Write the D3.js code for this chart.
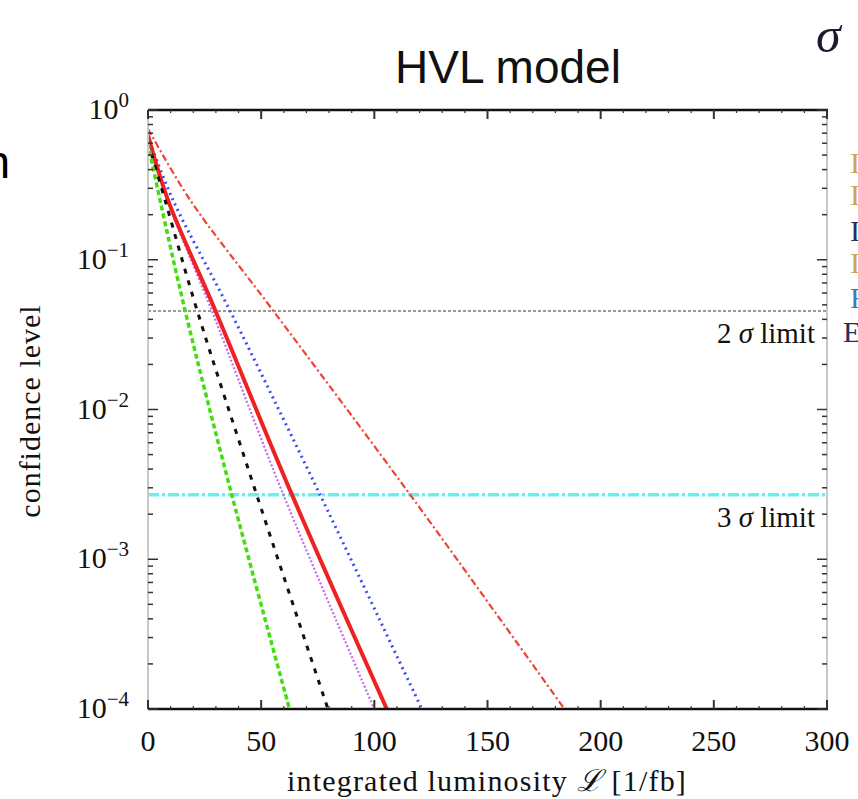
<!DOCTYPE html>
<html>
<head>
<meta charset="utf-8">
<script src="https://cdn.jsdelivr.net/npm/d3@7"></script>
<style>
  body { margin: 0; background: #fff; }
  svg { display: block; }
</style>
</head>
<body>
<svg width="858" height="799"></svg>
<script>
// confidence level vs integrated luminosity, HVL model

// series: luminosity [1/fb] and confidence level
var lumiGreen = [0, 5.3, 16.3, 37, 62.5];
var clGreen   = [0.60, 0.251, 0.0464, 0.0027, 1e-4];
var lumiBlack = [0, 7.5, 21.6, 48, 79.5];
var clBlack   = [0.61, 0.251, 0.0464, 0.0027, 1e-4];
var lumiMagenta = [0, 8.5, 28, 59.8, 100];
var clMagenta   = [0.64, 0.251, 0.0464, 0.0027, 1e-4];
var lumiRed = [0, 8.8, 29.6, 63.6, 105.5];
var clRed   = [0.68, 0.251, 0.0464, 0.0027, 1e-4];
var lumiBlue = [0, 11, 36, 76, 121];
var clBlue   = [0.66, 0.251, 0.0464, 0.0027, 1e-4];
var lumiOrange = [0, 18.6, 55, 115.8, 184];
var clOrange   = [0.75, 0.251, 0.0464, 0.0027, 1e-4];

var limits = [0.0455, 0.0027];
var limitLabels = ["2", "3"];

var xTicks = [0, 50, 100, 150, 200, 250, 300];
var yTicks = [1, 0.1, 0.01, 0.001, 0.0001];
var yTickExp = ["0", "\u22121", "\u22122", "\u22123", "\u22124"];

var svg = d3.select("svg");

var pLeft = 148, pRight = 827, pTop = 110, pBottom = 709;

var x = d3.scaleLinear().domain([0, 300]).range([pLeft, pRight]);
var y = d3.scaleLog().domain([1e-4, 1]).range([pBottom, pTop]);

var serif = "'Liberation Serif', 'DejaVu Serif', serif";

// title
svg.append("text")
    .attr("x", 508)
    .attr("y", 83)
    .attr("text-anchor", "middle")
    .attr("font-family", "'Liberation Sans', Arial, sans-serif")
    .attr("font-size", "46px")
    .attr("fill", "#111")
    .text("HVL model");

// bits of the neighbouring slide content
svg.append("text")
    .attr("x", 10)
    .attr("y", 178)
    .attr("text-anchor", "end")
    .attr("font-family", "'Liberation Sans', Arial, sans-serif")
    .attr("font-size", "46px")
    .attr("fill", "#000")
    .text("n");

svg.append("text")
    .attr("x", 816)
    .attr("y", 52)
    .attr("font-family", serif)
    .attr("font-style", "italic")
    .attr("font-size", "50px")
    .attr("fill", "#1a1a30")
    .text("\u03c3");

var edge = [
  {t: "I", y: 173, c: "#c9a55a"},
  {t: "I", y: 205, c: "#c9a55a"},
  {t: "I", y: 241, c: "#23305a"},
  {t: "I", y: 273, c: "#c9a55a"},
  {t: "F", y: 308, c: "#3a7ac8"},
  {t: "E", y: 342, c: "#23305a"}
];
svg.selectAll(".edge")
  .data(edge)
  .enter().append("text")
    .attr("class", "edge")
    .attr("x", function(d) { return d.t == "E" ? 843 : 850; })
    .attr("y", function(d) { return d.y; })
    .attr("font-family", serif)
    .attr("font-size", "30px")
    .attr("fill", function(d) { return d.c; })
    .text(function(d) { return d.t + "ine"; });

// clip for the curves
svg.append("defs").append("clipPath")
    .attr("id", "plot")
  .append("rect")
    .attr("x", pLeft)
    .attr("y", pTop)
    .attr("width", pRight - pLeft)
    .attr("height", pBottom - pTop);

var g = svg.append("g").attr("clip-path", "url(#plot)");

// limit lines
g.append("line")
    .attr("x1", pLeft).attr("x2", pRight)
    .attr("y1", y(limits[0])).attr("y2", y(limits[0]))
    .attr("stroke", "#999")
    .attr("stroke-width", 2)
    .attr("stroke-dasharray", "3,2");

g.append("line")
    .attr("x1", pLeft).attr("x2", pRight)
    .attr("y1", y(limits[1])).attr("y2", y(limits[1]))
    .attr("stroke", "#6aeef0")
    .attr("stroke-width", 3.5)
    .attr("stroke-dasharray", "11,3,3,3");

var series = [
  {lumi: lumiOrange, cl: clOrange, color: "#ee4433", width: 2.2, dash: "7,3,2,3"},
  {lumi: lumiBlue, cl: clBlue, color: "#3a4cf0", width: 3, dash: "2,4"},
  {lumi: lumiMagenta, cl: clMagenta, color: "#cc66f0", width: 2.2, dash: "2,2"},
  {lumi: lumiRed, cl: clRed, color: "#ee2222", width: 4, dash: null},
  {lumi: lumiBlack, cl: clBlack, color: "#111", width: 3, dash: "5,7"},
  {lumi: lumiGreen, cl: clGreen, color: "#44dd11", width: 3.5, dash: "5,3"}
];

var line = d3.line()
    .x(function(d) { return x(d[0]); })
    .y(function(d) { return y(d[1]); })
    .curve(d3.curveCatmullRom.alpha(0.5));

g.selectAll(".curve")
  .data(series)
  .enter().append("path")
    .attr("class", "curve")
    .attr("fill", "none")
    .attr("stroke", function(d) { return d.color; })
    .attr("stroke-width", function(d) { return d.width; })
    .attr("stroke-dasharray", function(d) { return d.dash; })
    .attr("d", function(d) { return line(d3.zip(d.lumi, d.cl)); });

// limit labels
svg.selectAll(".limit")
  .data(limits)
  .enter().append("text")
    .attr("class", "limit")
    .attr("x", 815)
    .attr("y", function(d) { return y(d) + 32; })
    .attr("text-anchor", "end")
    .attr("font-family", serif)
    .attr("font-size", "29px")
    .attr("fill", "#111")
    .html(function(d, i) {
      return limitLabels[i] + " <tspan font-style='italic'>\u03c3</tspan> limit";
    });

// frame
svg.append("line").attr("x1", pLeft).attr("x2", pLeft).attr("y1", pTop).attr("y2", pBottom)
    .attr("stroke", "#c8c8c8").attr("stroke-width", 2);
svg.append("line").attr("x1", pRight).attr("x2", pRight).attr("y1", pTop).attr("y2", pBottom)
    .attr("stroke", "#c8c8c8").attr("stroke-width", 2);
svg.append("line").attr("x1", pLeft).attr("x2", pRight + 1).attr("y1", pTop).attr("y2", pTop)
    .attr("stroke", "#111").attr("stroke-width", 2.5);
svg.append("line").attr("x1", pLeft).attr("x2", pRight + 1).attr("y1", pBottom).attr("y2", pBottom)
    .attr("stroke", "#111").attr("stroke-width", 2.5);

// x ticks, inside, bottom and top
var xMinor = d3.range(0, 301, 10);
[pBottom, pTop].forEach(function(edgeY, k) {
  var dir = k == 0 ? -1 : 1;
  svg.append("g").selectAll("line")
    .data(xMinor)
    .enter().append("line")
      .attr("x1", function(d) { return x(d); })
      .attr("x2", function(d) { return x(d); })
      .attr("y1", edgeY)
      .attr("y2", function(d) { return edgeY + dir * (d % 50 == 0 ? 9 : 3); })
      .attr("stroke", "#333")
      .attr("stroke-width", function(d) { return d % 50 == 0 ? 2 : 1.2; });
});

svg.append("g").selectAll("text")
  .data(xTicks)
  .enter().append("text")
    .attr("x", function(d) { return x(d); })
    .attr("y", 751)
    .attr("text-anchor", "middle")
    .attr("font-family", serif)
    .attr("font-size", "30px")
    .attr("fill", "#111")
    .text(function(d) { return d; });

// y ticks, inside, left and right
var yMinor = y.ticks();
[pLeft, pRight].forEach(function(edgeX, k) {
  var dir = k == 0 ? 1 : -1;
  svg.append("g").selectAll("line")
    .data(yMinor)
    .enter().append("line")
      .attr("x1", edgeX)
      .attr("x2", function(d) {
        var major = Math.abs(Math.log10(d) - Math.round(Math.log10(d))) < 1e-9;
        return edgeX + dir * (major ? 10 : 5);
      })
      .attr("y1", function(d) { return y(d); })
      .attr("y2", function(d) { return y(d); })
      .attr("stroke", "#333")
      .attr("stroke-width", 1.5);
});

var yl = svg.append("g").selectAll("text")
  .data(yTicks)
  .enter().append("text")
    .attr("x", 129)
    .attr("y", function(d) { return y(d) + 9; })
    .attr("text-anchor", "end")
    .attr("font-family", serif)
    .attr("font-size", "30px")
    .attr("fill", "#111");
yl.append("tspan").text("10");
yl.append("tspan")
    .attr("dy", -12)
    .attr("font-size", "21px")
    .text(function(d, i) { return yTickExp[i]; });

// axis titles
svg.append("text")
    .attr("transform", "translate(40,411) rotate(-90)")
    .attr("text-anchor", "middle")
    .attr("font-family", serif)
    .attr("font-size", "30px")
    .attr("letter-spacing", "1px")
    .attr("fill", "#111")
    .text("confidence level");

svg.append("text")
    .attr("x", 487)
    .attr("y", 791)
    .attr("text-anchor", "middle")
    .attr("font-family", serif)
    .attr("font-size", "30px")
    .attr("letter-spacing", "1.2px")
    .attr("fill", "#111")
    .html("integrated luminosity <tspan font-style='italic'>\u2112</tspan>  [1/fb]");
</script>
</body>
</html>
